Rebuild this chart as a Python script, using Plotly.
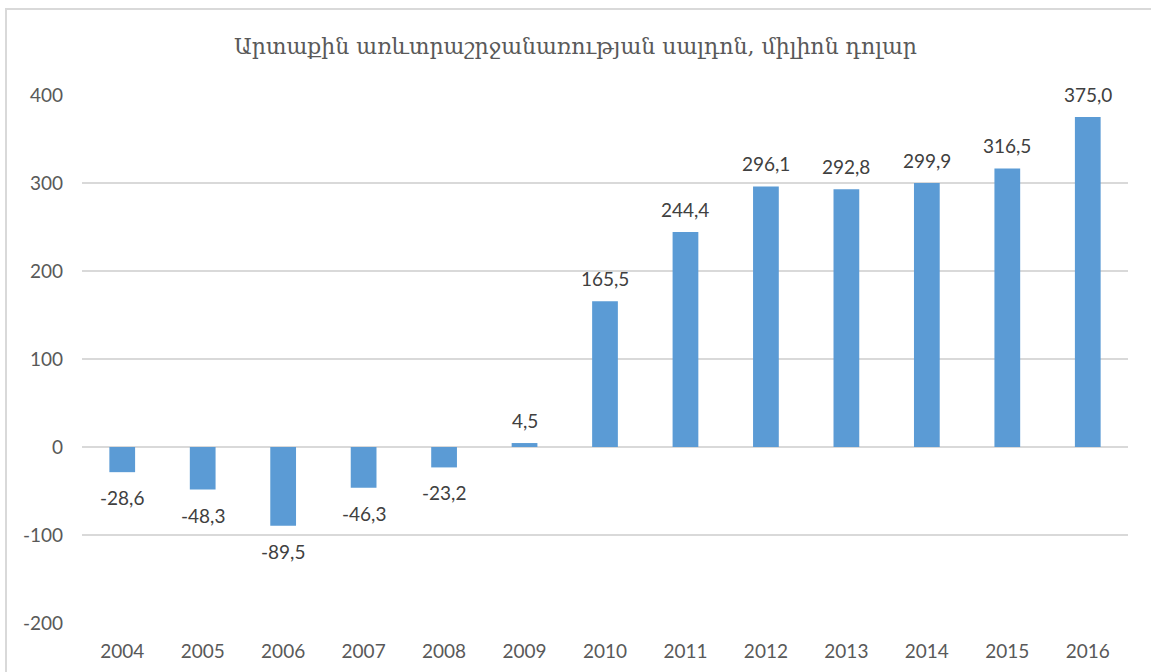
import plotly.graph_objects as go

years = ["2004", "2005", "2006", "2007", "2008", "2009", "2010",
         "2011", "2012", "2013", "2014", "2015", "2016"]
values = [-28.6, -48.3, -89.5, -46.3, -23.2, 4.5, 165.5,
          244.4, 296.1, 292.8, 299.9, 316.5, 375.0]
labels = [f"{v:.1f}".replace(".", ",") for v in values]
y_ticks = [-200, -100, 0, 100, 200, 300, 400]
y_ticktext = [str(v) for v in y_ticks]
title_text = "Արտաքին առևտրաշրջանառության սալդոն, միլիոն դոլար"

W, H = 1151, 672
L, R, T, B = 82, 23, 95, 49

fig = go.Figure()
fig.add_trace(go.Bar(
    x=years, y=values, marker=dict(color="#5b9bd5", line=dict(width=0)),
    width=0.32, hoverinfo="x+y",
))

for i, (v, lab) in enumerate(zip(values, labels)):
    fig.add_annotation(
        x=i, y=v, text=lab, showarrow=False,
        yanchor="bottom" if v >= 0 else "top",
        yshift=9 if v >= 0 else -12,
        font=dict(family="Lato, 'Open Sans', sans-serif", size=19, color="#404040"),
    )

pw = W - L - R
ph = H - T - B
fig.add_shape(
    type="rect", xref="paper", yref="paper",
    x0=(6 - L) / pw, x1=(1152 - L) / pw,
    y0=(H - B - 690) / ph, y1=(H - B - 9) / ph,
    line=dict(color="#d9d9d9", width=2), fillcolor="rgba(0,0,0,0)", layer="below",
)

fig.update_layout(
    width=W, height=H,
    margin=dict(l=L, r=R, t=T, b=B),
    paper_bgcolor="white", plot_bgcolor="white",
    showlegend=False,
    title=dict(text=title_text, x=0.5, xanchor="center", y=1 - 46 / H, yanchor="middle",
               font=dict(family="'DejaVu Serif', serif", size=22, color="#595959")),
    xaxis=dict(type="category", range=[-0.5, len(years) - 0.5],
               showgrid=False, showline=False, zeroline=False, ticks="",
               tickfont=dict(family="Lato, 'Open Sans', sans-serif", size=19, color="#595959"),
               ticklabelstandoff=15, fixedrange=True, automargin=False),
    yaxis=dict(range=[-200, 400], tickvals=y_ticks, ticktext=y_ticktext,
               showgrid=True, gridcolor="#d9d9d9",
               gridwidth=1.5, zeroline=True, zerolinecolor="#d9d9d9", zerolinewidth=1.5,
               showline=False, ticks="",
               tickfont=dict(family="Lato, 'Open Sans', sans-serif", size=19, color="#595959"),
               ticklabelstandoff=18, fixedrange=True, automargin=False),
)

fig.write_html(
    "out.html",
    config={"displayModeBar": False},
    post_script="document.body.style.margin='0px';document.body.style.padding='0px';"
                "document.body.style.overflow='hidden';",
)
